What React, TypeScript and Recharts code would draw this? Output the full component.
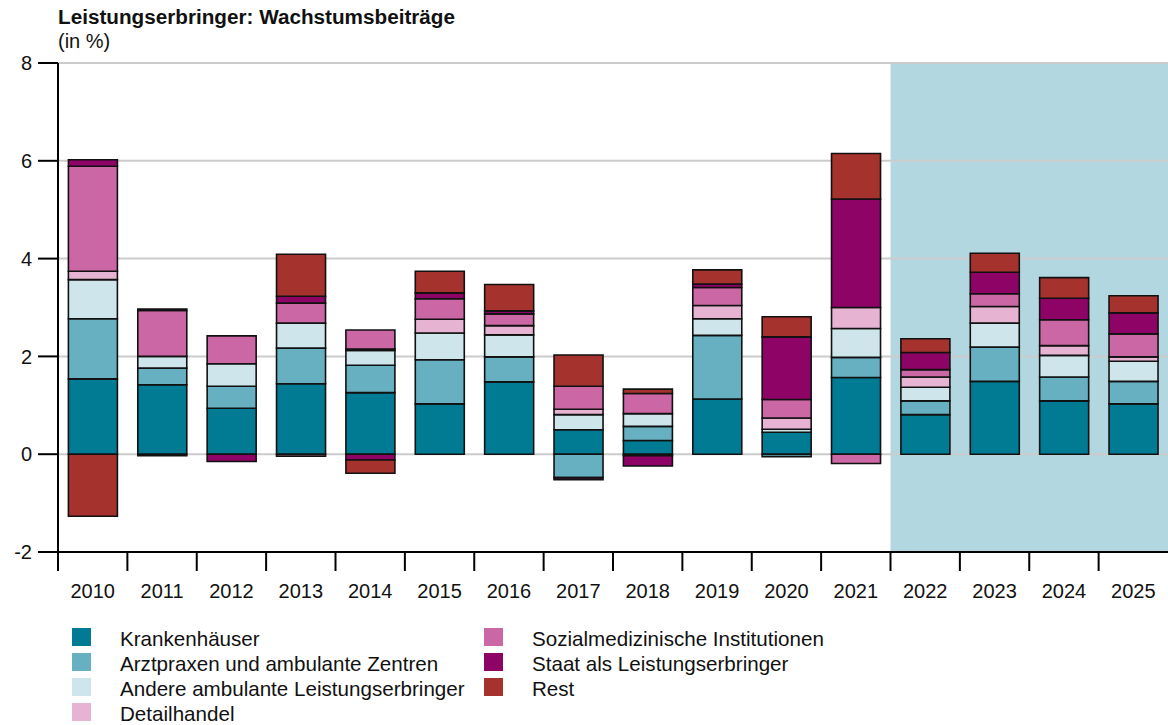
import { BarChart, Bar, XAxis, YAxis, CartesianGrid, ReferenceArea } from 'recharts';

const years = ['2010', '2011', '2012', '2013', '2014', '2015', '2016', '2017', '2018', '2019', '2020', '2021', '2022', '2023', '2024', '2025'];
const forecastFrom = '2022';
const yTicks = [-2, 0, 2, 4, 6, 8];

// Wachstumsbeiträge in Prozentpunkten
const krankenhaeuser = [1.54, 1.42, 0.94, 1.44, 1.26, 1.03, 1.48, 0.50, 0.28, 1.13, 0.45, 1.57, 0.81, 1.49, 1.09, 1.03];
const arztpraxen = [1.23, 0.34, 0.45, 0.73, 0.56, 0.90, 0.51, -0.48, 0.29, 1.30, -0.05, 0.41, 0.28, 0.70, 0.49, 0.46];
const andere = [0.80, 0.24, 0.46, 0.51, 0.30, 0.55, 0.45, 0.31, 0.26, 0.34, 0.06, 0.59, 0.28, 0.49, 0.44, 0.41];
const detailhandel = [0.17, 0, 0, -0.04, 0.03, 0.28, 0.19, 0.11, -0.03, 0.27, 0.23, 0.43, 0.21, 0.34, 0.20, 0.09];
const sozialmedizin = [2.15, 0.94, 0.57, 0.41, 0.39, 0.42, 0.24, 0.47, 0.41, 0.37, 0.38, -0.19, 0.15, 0.26, 0.53, 0.47];
const staat = [0.13, 0.03, -0.15, 0.14, -0.12, 0.12, 0.06, -0.04, -0.21, 0.07, 1.28, 2.22, 0.35, 0.44, 0.44, 0.43];
const rest = [-1.27, -0.03, 0, 0.86, -0.27, 0.44, 0.54, 0.64, 0.09, 0.29, 0.41, 0.93, 0.28, 0.39, 0.42, 0.35];

const series = [
    { key: 'kh', name: 'Krankenhäuser', color: '#007b93', values: krankenhaeuser },
    { key: 'ap', name: 'Arztpraxen und ambulante Zentren', color: '#67b0c1', values: arztpraxen },
    { key: 'al', name: 'Andere ambulante Leistungserbringer', color: '#cde5eb', values: andere },
    { key: 'dh', name: 'Detailhandel', color: '#e7b3d3', values: detailhandel },
    { key: 'si', name: 'Sozialmedizinische Institutionen', color: '#cb67a4', values: sozialmedizin },
    { key: 'st', name: 'Staat als Leistungserbringer', color: '#8e0466', values: staat },
    { key: 're', name: 'Rest', color: '#a6322e', values: rest },
];

const data = years.map((year, i) => {
    const row: any = { year };
    series.forEach(s => { row[s.key] = s.values[i]; });
    return row;
});

const W = 1168;
const H = 725;
const AXIS_W = 58;
const PLOT_TOP = 63;
const PLOT_BOTTOM = 552;
const BAND = (W - AXIS_W) / years.length;

// year labels sit in the middle, tick marks between the years
const YearTick = (props: any) => {
    const { x, y, payload } = props;
    return (
        <g>
            <line x1={x - BAND / 2} x2={x - BAND / 2} y1={y} y2={y + 19} stroke="#000" strokeWidth={2} />
            <text x={x} y={y + 46} textAnchor="middle" fontSize={20} fill="#111">{payload.value}</text>
        </g>
    );
};

export default function App() {
    return (
        <div style={{ position: 'relative', width: W, height: H, fontFamily: '"Liberation Sans", Arial, sans-serif', background: '#fff' }}>
            <style>{`body { margin: 0; }`}</style>

            <div style={{ position: 'absolute', left: 58, top: 5, fontSize: 20.7, fontWeight: 'bold', color: '#111', whiteSpace: 'nowrap' }}>
                Leistungserbringer: Wachstumsbeiträge
            </div>
            <div style={{ position: 'absolute', left: 58, top: 29.5, fontSize: 20, color: '#111' }}>(in %)</div>

            <BarChart
                width={W}
                height={H}
                data={data}
                stackOffset="sign"
                barCategoryGap="15%"
                margin={{ top: PLOT_TOP, right: 0, bottom: 0, left: 0 }}
            >
                <ReferenceArea x1={forecastFrom} x2={years[years.length - 1]} fill="#b2d7e0" fillOpacity={1} stroke="none" zIndex={-200} />
                <CartesianGrid vertical={false} stroke="#cccccc" strokeWidth={2} />
                <XAxis
                    dataKey="year"
                    height={H - PLOT_BOTTOM}
                    axisLine={{ stroke: '#000', strokeWidth: 2 }}
                    tickLine={false}
                    tickSize={0}
                    tickMargin={0}
                    tick={<YearTick />}
                    interval={0}
                />
                <YAxis
                    width={AXIS_W}
                    domain={[-2, 8]}
                    ticks={yTicks}
                    allowDataOverflow
                    axisLine={{ stroke: '#000', strokeWidth: 2 }}
                    tickLine={{ stroke: '#000', strokeWidth: 2 }}
                    tickSize={20}
                    tickMargin={6}
                    tick={{ fontSize: 20, fill: '#111' }}
                />
                {series.map(s => (
                    <Bar
                        key={s.key}
                        dataKey={s.key}
                        name={s.name}
                        stackId="a"
                        fill={s.color}
                        stroke="#111"
                        strokeWidth={1.6}
                        isAnimationActive={false}
                    />
                ))}
            </BarChart>

            {/* Legend, two columns */}
            {series.map((s, i) => {
                const col = i < 4 ? 0 : 1;
                const row = i < 4 ? i : i - 4;
                const left = col === 0 ? 72 : 484;
                const top = 628 + row * 25;
                return (
                    <div key={s.key}>
                        <div style={{ position: 'absolute', left, top, width: 19, height: 18, background: s.color }} />
                        <div style={{ position: 'absolute', left: left + 48, top: top - 1, fontSize: 20.6, color: '#111', whiteSpace: 'nowrap' }}>{s.name}</div>
                    </div>
                );
            })}
        </div>
    );
}
